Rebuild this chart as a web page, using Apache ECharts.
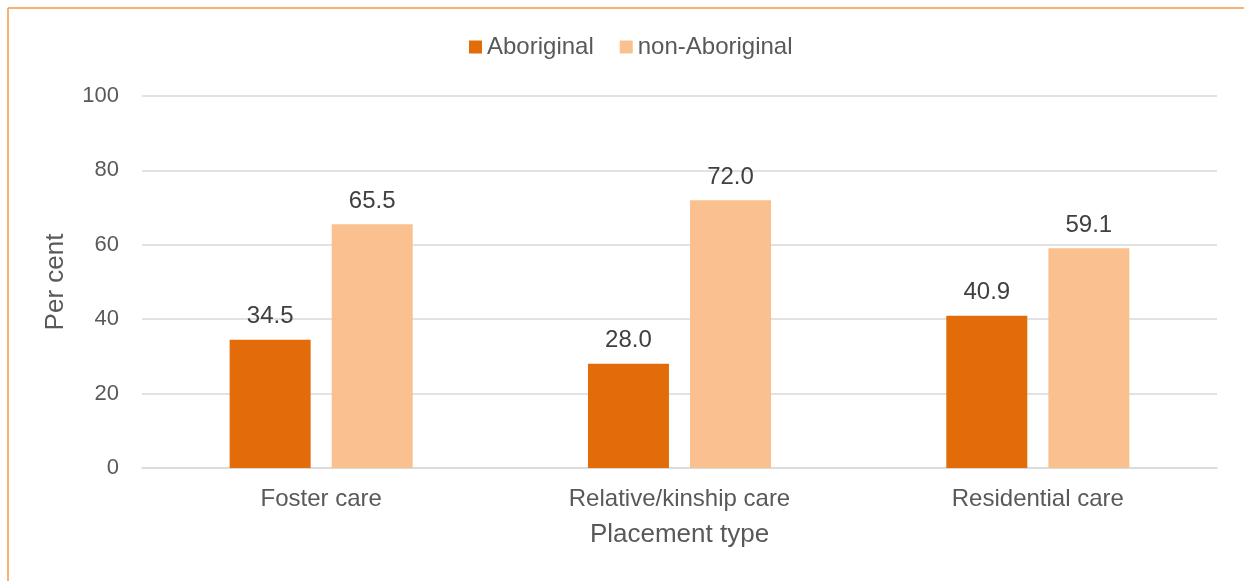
<!DOCTYPE html>
<html>
<head>
    <meta charset="utf-8">
    <title>Placement type</title>
    <script src="https://cdn.jsdelivr.net/npm/echarts@6/dist/echarts.min.js"></script>
    <style>
        html, body { margin: 0; padding: 0; background: #fff; }
    </style>
</head>
<body>
    <div id="chart" style="width: 1244px;height:581px;"></div>
    <script type="text/javascript">
        // data
        var categories = ['Foster care', 'Relative/kinship care', 'Residential care'];
        var aboriginal = [34.5, 28.0, 40.9];
        var nonAboriginal = [65.5, 72.0, 59.1];
        var yTicks = [0, 20, 40, 60, 80, 100];

        var font = "'Liberation Sans', Arial, sans-serif";
        var myChart = echarts.init(document.getElementById('chart'));

        var labelStyle = {
            show: true,
            position: 'top',
            distance: 11,
            color: '#404040',
            fontSize: 24,
            fontFamily: font,
            formatter: function (p) { return p.value.toFixed(1); }
        };

        var option = {
            backgroundColor: '#fff',
            animation: false,
            textStyle: { fontFamily: font },
            graphic: [
                { type: 'line', shape: { x1: 8, y1: 8, x2: 1244, y2: 8 }, style: { stroke: '#F79646', lineWidth: 1.5 } },
                { type: 'line', shape: { x1: 8, y1: 8, x2: 8, y2: 581 }, style: { stroke: '#F79646', lineWidth: 1.5 } }
            ],
            legend: {
                top: 30,
                left: 464,
                itemWidth: 13,
                itemHeight: 13,
                itemGap: 26,
                icon: 'rect',
                textStyle: { color: '#595959', fontSize: 24, fontFamily: font },
                data: ['Aboriginal', 'non-Aboriginal']
            },
            grid: {
                left: 142,
                right: 27,
                top: 96,
                bottom: 113
            },
            xAxis: {
                type: 'category',
                data: categories,
                name: 'Placement type',
                nameLocation: 'middle',
                nameGap: 54,
                nameTextStyle: { color: '#595959', fontSize: 26, fontFamily: font },
                axisTick: { show: false },
                axisLine: { lineStyle: { color: '#D9D9D9', width: 1.5 } },
                axisLabel: { color: '#595959', fontSize: 24, fontFamily: font, margin: 19 }
            },
            yAxis: {
                type: 'value',
                min: yTicks[0],
                max: yTicks[yTicks.length - 1],
                interval: 20,
                name: 'Per cent',
                nameLocation: 'middle',
                nameGap: 73,
                nameTextStyle: { color: '#595959', fontSize: 26, fontFamily: font },
                axisLine: { show: false },
                axisTick: { show: false },
                splitLine: { lineStyle: { color: '#D9D9D9', width: 1.5 } },
                axisLabel: { color: '#595959', fontSize: 22, fontFamily: font, margin: 23 }
            },
            series: [
                {
                    name: 'Aboriginal',
                    type: 'bar',
                    data: aboriginal,
                    barWidth: 81,
                    barGap: '26%',
                    itemStyle: { color: '#E36C0A' },
                    label: labelStyle
                },
                {
                    name: 'non-Aboriginal',
                    type: 'bar',
                    data: nonAboriginal,
                    barWidth: 81,
                    itemStyle: { color: '#FAC090' },
                    label: labelStyle
                }
            ]
        };

        myChart.setOption(option);
    </script>
</body>
</html>
